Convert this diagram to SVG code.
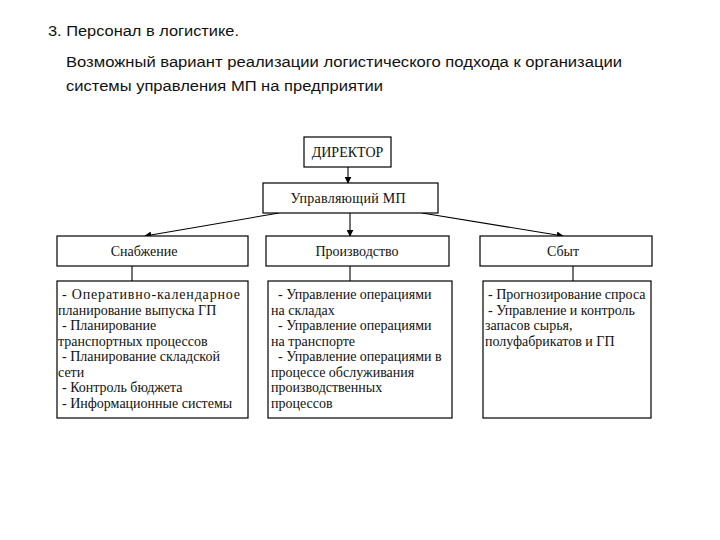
<svg xmlns="http://www.w3.org/2000/svg" width="720" height="540" viewBox="0 0 720 540">
<defs>
<style>
.t{font-family:"Liberation Sans","Noto Sans",sans-serif;font-size:15.5px;fill:#111}
.b{fill:#fff;stroke:#000;stroke-width:1.2}
.l{font-family:"Liberation Serif","DejaVu Serif",serif;font-size:14px;fill:#111}
.c{stroke:#000;stroke-width:1.1;fill:none}
</style>
<marker id="ah" viewBox="0 0 10 10" refX="9" refY="5" markerWidth="7" markerHeight="7" markerUnits="userSpaceOnUse" orient="auto">
<path d="M0,0 L10,5 L0,10 z" fill="#000"/>
</marker>
</defs>
<rect width="720" height="540" fill="#fff"/>
<g id="title">
<text class="t" x="48" y="36" textLength="191" lengthAdjust="spacingAndGlyphs">3. Персонал в логистике.</text>
<text class="t" x="66" y="67" textLength="556" lengthAdjust="spacingAndGlyphs">Возможный вариант реализации логистического подхода к организации</text>
<text class="t" x="66" y="91" textLength="317" lengthAdjust="spacingAndGlyphs">системы управления МП на предприятии</text>
</g>
<g id="connectors">
<line class="c" x1="348" y1="167" x2="348" y2="183" marker-end="url(#ah)"/>
<line class="c" x1="279" y1="213" x2="145" y2="236" marker-end="url(#ah)"/>
<line class="c" x1="350" y1="213" x2="350" y2="236" marker-end="url(#ah)"/>
<line class="c" x1="422" y1="213" x2="563" y2="236" marker-end="url(#ah)"/>
<line class="c" x1="132" y1="266" x2="132" y2="281"/>
<line class="c" x1="350" y1="266" x2="350" y2="281"/>
<line class="c" x1="573" y1="266" x2="573" y2="281"/>
</g>
<g id="director">
<rect class="b" x="304" y="137" width="87" height="30"/>
<text class="l" x="347.5" y="157" text-anchor="middle">ДИРЕКТОР</text>
</g>
<g id="manager">
<rect class="b" x="263" y="183" width="175" height="30"/>
<text class="l" x="348" y="203" text-anchor="middle" textLength="115" lengthAdjust="spacing">Управляющий МП</text>
</g>
<g id="supply">
<rect class="b" x="57" y="236" width="191" height="30"/>
<text class="l" x="144" y="256" text-anchor="middle">Снабжение</text>
</g>
<g id="production">
<rect class="b" x="266" y="236" width="183" height="30"/>
<text class="l" x="357" y="256" text-anchor="middle">Производство</text>
</g>
<g id="sales">
<rect class="b" x="480" y="236" width="172" height="30"/>
<text class="l" x="563" y="256" text-anchor="middle">Сбыт</text>
</g>
<g id="supply-tasks">
<rect class="b" x="57" y="281" width="191" height="137"/>
<text class="l" x="62" y="299" textLength="178" lengthAdjust="spacing">- Оперативно-календарное</text>
<text class="l" x="58" y="314.5">планирование выпуска ГП</text>
<text class="l" x="62" y="330">- Планирование</text>
<text class="l" x="58" y="345.5">транспортных процессов</text>
<text class="l" x="62" y="361">- Планирование складской</text>
<text class="l" x="58" y="376.5">сети</text>
<text class="l" x="62" y="392">- Контроль бюджета</text>
<text class="l" x="62" y="407.5">- Информационные системы</text>
</g>
<g id="production-tasks">
<rect class="b" x="268" y="281" width="184" height="137"/>
<text class="l" x="278" y="299">- Управление операциями</text>
<text class="l" x="271" y="314.5">на складах</text>
<text class="l" x="278" y="330">- Управление операциями</text>
<text class="l" x="271" y="345.5">на транспорте</text>
<text class="l" x="278" y="361">- Управление операциями в</text>
<text class="l" x="271" y="376.5">процессе обслуживания</text>
<text class="l" x="271" y="392">производственных</text>
<text class="l" x="271" y="407.5">процессов</text>
</g>
<g id="sales-tasks">
<rect class="b" x="483" y="281" width="168" height="137"/>
<text class="l" x="488" y="299">- Прогнозирование спроса</text>
<text class="l" x="488" y="314.5">- Управление и контроль</text>
<text class="l" x="485" y="330">запасов сырья,</text>
<text class="l" x="485" y="345.5">полуфабрикатов и ГП</text>
</g>
</svg>
